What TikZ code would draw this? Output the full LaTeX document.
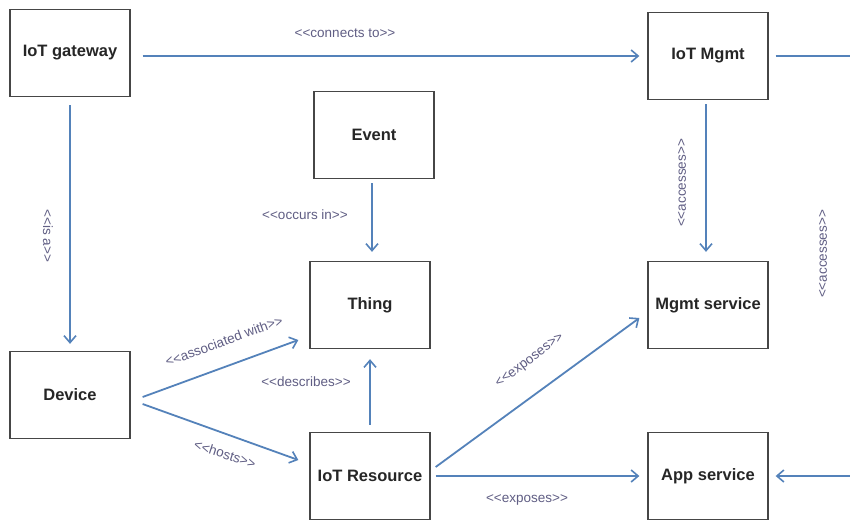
\documentclass[tikz,border=0pt]{standalone}
\usepackage{fontspec}
\setmainfont{Liberation Sans}
% plain font for stereotype labels, so that << stays as two characters
\newfontfamily\stereofont{Liberation Sans}[Ligatures=TeXOff]
\usetikzlibrary{arrows.meta}
\definecolor{linkblue}{RGB}{84,130,186}
\definecolor{boxline}{RGB}{70,70,70}
\definecolor{stereo}{RGB}{96,94,132}
\tikzset{
  entity/.style={draw=boxline, line width=1.3pt, minimum width=120pt, minimum height=87pt,
    inner sep=0pt, font=\fontsize{16.5}{18}\selectfont\bfseries, text=black!85},
  link/.style={draw=linkblue, line width=1.8pt,
    -{Straight Barb[length=7pt,width=12pt,line width=1.6pt]}},
  stereotype/.style={font=\stereofont\fontsize{13.5}{15}\selectfont, text=stereo, inner sep=1pt}
}
\begin{document}
\begin{tikzpicture}[x=1pt,y=-1pt]
  \useasboundingbox[fill=white] (0,0) rectangle (850,520);

  % entities
  \node[entity] (gw)    at (70,53)   {IoT gateway};
  \node[entity] (mgmt)  at (708,56)  {IoT Mgmt};
  \node[entity] (event) at (374,135) {Event};
  \node[entity] (thing) at (370,305) {Thing};
  \node[entity] (msvc)  at (708,305) {Mgmt service};
  \node[entity] (dev)   at (70,395)  {Device};
  \node[entity] (res)   at (370,476) {IoT Resource};
  \node[entity] (app)   at (708,476) {App service};

  % relations
  \draw[link, shorten <=12pt, shorten >=8pt] (gw.east |- mgmt) -- (mgmt.west);
  \draw[link, shorten <=8pt, shorten >=7pt] (gw.south) -- (dev.north);
  \draw[link, shorten <=4pt, shorten >=9pt] (event.south -| 372,0) -- (thing.north -| 372,0);
  \draw[link, shorten <=4pt, shorten >=9pt] (mgmt.south -| 706,0) -- (msvc.north -| 706,0);
  \draw[link] ([shift={(12,2)}]dev.east) -- ([shift={(-11,35)}]thing.west);
  \draw[link] ([shift={(12,9)}]dev.east) -- ([shift={(-11,-16)}]res.west);
  \draw[link, shorten <=7pt, shorten >=10pt] (res.north) -- (thing.south);
  \draw[link] ([shift={(5,-9)}]res.east) -- ([shift={(-8,13)}]msvc.west);
  \draw[link, shorten <=5pt, shorten >=8pt] (res.east) -- (app.west);
  \draw[link, shorten <=7pt, shorten >=7pt] (mgmt.east) -- ++(110,0) |- (app.east);

  % stereotype labels
  \node[stereotype] (l1) at (345,33) {<<connects to>>};
  \node[stereotype, rotate=-90] (l2) at (48,236) {<<is a>>};
  \node[stereotype] (l3) at (305,215) {<<occurs in>>};
  \node[stereotype, rotate=90] (l4) at (682,183) {<<accesses>>};
  \node[stereotype, rotate=90] (l5) at (823,254) {<<accesses>>};
  \node[stereotype, rotate=20] (l6) at (224,341) {<<associated with>>};
  \node[stereotype, rotate=-18] (l7) at (225,454) {<<hosts>>};
  \node[stereotype] (l8) at (306,382) {<<describes>>};
  \node[stereotype, rotate=37] (l9) at (530,361) {<<exposes>>};
  \node[stereotype] (l10) at (527,500) {<<exposes>>};
\end{tikzpicture}
\end{document}
